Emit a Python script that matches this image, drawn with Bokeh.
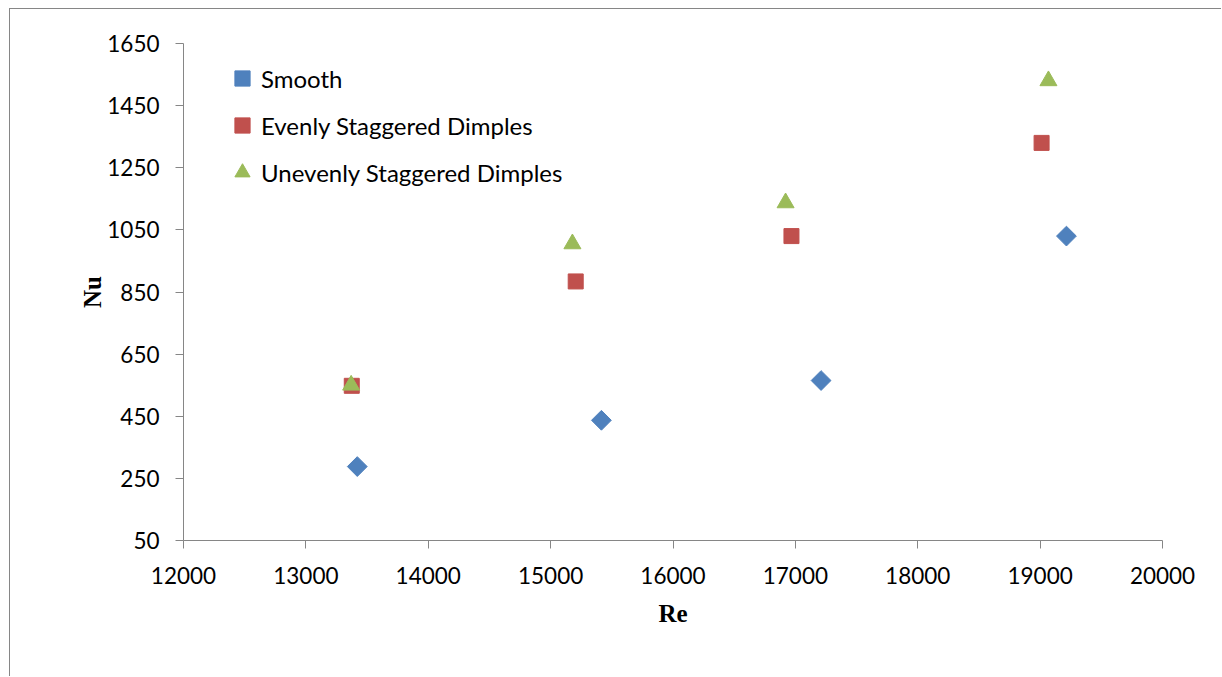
import math
from bokeh.plotting import figure
from bokeh.models import FixedTicker, Legend, LegendItem, Range1d
from bokeh.embed import file_html
from bokeh.resources import INLINE

# ---- data ----
re_smooth = [13420, 15415, 17210, 19215]
nu_smooth = [288, 437, 565, 1030]

re_even = [13375, 15205, 16968, 19012]
nu_even = [548, 884, 1030, 1330]

re_uneven = [13370, 15178, 16920, 19068]
nu_uneven = [550, 1005, 1137, 1530]

x_ticks = [12000, 13000, 14000, 15000, 16000, 17000, 18000, 19000, 20000]
y_ticks = [50, 250, 450, 650, 850, 1050, 1250, 1450, 1650]

series_names = ["Smooth", "Evenly Staggered Dimples", "Unevenly Staggered Dimples"]
colors = ["#4F81BD", "#C0504D", "#9BBB59"]

W, H = 1212, 668
p = figure(width=W, height=H, output_backend="svg", toolbar_location=None,
           x_range=Range1d(12000, 20000), y_range=Range1d(50, 1650),
           min_border_left=173, min_border_top=34, min_border_right=60,
           min_border_bottom=137)
p.styles = {"margin-left": "9px", "margin-top": "8px",
            "border-left": "1px solid #868686", "border-top": "1px solid #868686"}
p.outline_line_color = None
p.xgrid.visible = False
p.ygrid.visible = False
p.background_fill_color = "white"
p.border_fill_color = "white"

for ax in (p.xaxis[0], p.yaxis[0]):
    ax.axis_line_color = "#868686"
    ax.major_tick_line_color = "#868686"
    ax.minor_tick_line_color = None
    ax.major_tick_in = 0
    ax.major_tick_out = 8
    ax.major_label_text_font = "Lato"
    ax.major_label_text_font_size = "22.5px"
    ax.major_label_text_color = "black"
    ax.axis_label_text_font = "Liberation Serif"
    ax.axis_label_text_font_style = "bold"
    ax.axis_label_text_font_size = "25px"
    ax.axis_label_text_color = "black"

p.xaxis[0].ticker = FixedTicker(ticks=x_ticks)
p.yaxis[0].ticker = FixedTicker(ticks=y_ticks)
p.xaxis[0].axis_label = "Re"
p.yaxis[0].axis_label = "Nu"
p.xaxis[0].major_label_standoff = 18
p.yaxis[0].major_label_standoff = 16
p.xaxis[0].axis_label_standoff = 13
p.yaxis[0].axis_label_standoff = -2

r1 = p.scatter(re_smooth, nu_smooth, marker="square", angle=math.pi / 4, size=14,
               fill_color=colors[0], line_color=colors[0])
r2 = p.scatter(re_even, nu_even, marker="square", size=15,
               fill_color=colors[1], line_color=colors[1])
r3 = p.scatter(re_uneven, nu_uneven, marker="triangle", size=17,
               fill_color=colors[2], line_color=colors[2])

legend = Legend(items=[LegendItem(label=series_names[0], renderers=[r1]),
                       LegendItem(label=series_names[1], renderers=[r2]),
                       LegendItem(label=series_names[2], renderers=[r3])],
                location=(40, 349), padding=0, margin=0, spacing=9,
                glyph_width=38, glyph_height=38, label_height=38,
                label_standoff=0,
                label_text_font="Lato", label_text_font_size="24px",
                label_text_color="black",
                border_line_color=None, background_fill_alpha=0)
p.add_layout(legend, "center")

open("out.html", "w").write(file_html(p, INLINE))
